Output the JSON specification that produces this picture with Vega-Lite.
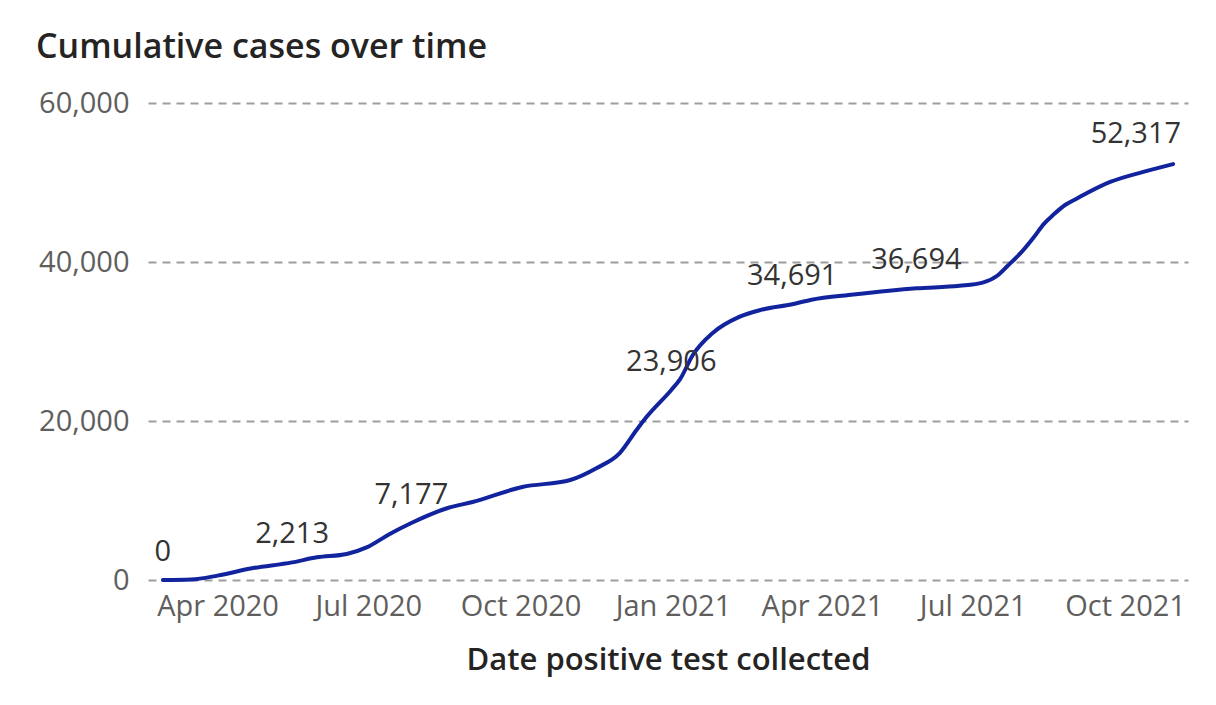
{
  "$schema": "https://vega.github.io/schema/vega-lite/v6.json",
  "width": 1040,
  "height": 477,
  "autosize": {"type": "none"},
  "padding": {"left": 148, "top": 103, "right": 28, "bottom": 125},
  "background": "white",
  "title": {
    "text": "Cumulative cases over time",
    "anchor": "start",
    "frame": "group",
    "dx": -112,
    "offset": 24,
    "font": "Open Sans",
    "fontSize": 34,
    "fontWeight": 600,
    "color": "#252423"
  },
  "config": {
    "view": {"stroke": null},
    "font": "Open Sans"
  },
  "data": {
    "values": [
      {"date": "2020-02-28", "cases": 0, "label": "0"},
      {"date": "2020-03-16", "cases": 60},
      {"date": "2020-04-01", "cases": 550},
      {"date": "2020-04-21", "cases": 1450},
      {"date": "2020-05-16", "cases": 2213, "label": "2,213"},
      {"date": "2020-05-31", "cases": 2850},
      {"date": "2020-06-18", "cases": 3270},
      {"date": "2020-06-30", "cases": 4100},
      {"date": "2020-07-14", "cases": 5800},
      {"date": "2020-07-27", "cases": 7177, "label": "7,177"},
      {"date": "2020-08-18", "cases": 9060},
      {"date": "2020-09-02", "cases": 9810},
      {"date": "2020-10-02", "cases": 11700},
      {"date": "2020-10-31", "cases": 12580},
      {"date": "2020-11-16", "cases": 14090},
      {"date": "2020-11-30", "cases": 16000},
      {"date": "2020-12-10", "cases": 18870},
      {"date": "2020-12-16", "cases": 20500},
      {"date": "2020-12-31", "cases": 23906, "label": "23,906"},
      {"date": "2021-01-05", "cases": 25160},
      {"date": "2021-01-13", "cases": 28300},
      {"date": "2021-01-25", "cases": 31070},
      {"date": "2021-02-10", "cases": 33090},
      {"date": "2021-02-23", "cases": 33970},
      {"date": "2021-03-14", "cases": 34691, "label": "34,691"},
      {"date": "2021-03-25", "cases": 35220},
      {"date": "2021-04-20", "cases": 35900},
      {"date": "2021-05-28", "cases": 36694, "label": "36,694"},
      {"date": "2021-06-23", "cases": 37000},
      {"date": "2021-07-07", "cases": 37400},
      {"date": "2021-07-16", "cases": 38300},
      {"date": "2021-07-22", "cases": 39500},
      {"date": "2021-07-30", "cases": 41140},
      {"date": "2021-08-07", "cases": 43150},
      {"date": "2021-08-13", "cases": 44800},
      {"date": "2021-08-19", "cases": 46000},
      {"date": "2021-08-26", "cases": 47200},
      {"date": "2021-09-02", "cases": 48000},
      {"date": "2021-09-22", "cases": 50070},
      {"date": "2021-10-12", "cases": 51330},
      {"date": "2021-10-30", "cases": 52317, "label": "52,317", "last": true}
    ]
  },
  "encoding": {
    "x": {
      "field": "date",
      "type": "temporal",
      "scale": {
        "type": "utc",
        "domain": [
          {"year": 2020, "month": 2, "date": 19, "utc": true},
          {"year": 2021, "month": 11, "date": 8, "utc": true}
        ]
      },
      "axis": {
        "values": [
          {"year": 2020, "month": 4, "date": 1, "utc": true},
          {"year": 2020, "month": 7, "date": 1, "utc": true},
          {"year": 2020, "month": 10, "date": 1, "utc": true},
          {"year": 2021, "month": 1, "date": 1, "utc": true},
          {"year": 2021, "month": 4, "date": 1, "utc": true},
          {"year": 2021, "month": 7, "date": 1, "utc": true},
          {"year": 2021, "month": 10, "date": 1, "utc": true}
        ],
        "labelExpr": "utcFormat(datum.value, '%b %Y')",
        "title": "Date positive test collected",
        "titleFont": "Open Sans",
        "titleFontSize": 31,
        "titleFontWeight": 600,
        "titleColor": "#252423",
        "titlePadding": 24,
        "labelFont": "Open Sans",
        "labelFontSize": 29,
        "labelColor": "#605E5C",
        "labelPadding": 12,
        "labelOverlap": false,
        "ticks": false,
        "domain": false,
        "grid": false
      }
    },
    "y": {
      "field": "cases",
      "type": "quantitative",
      "scale": {"domain": [0, 60000]},
      "axis": {
        "values": [0, 20000, 40000, 60000],
        "format": ",d",
        "title": null,
        "labelFont": "Open Sans",
        "labelFontSize": 29,
        "labelColor": "#605E5C",
        "labelPadding": 19,
        "ticks": false,
        "domain": false,
        "grid": true,
        "gridColor": "#9E9E9E",
        "gridWidth": 2,
        "gridDash": [8, 6]
      }
    }
  },
  "layer": [
    {
      "mark": {"type": "line", "color": "#12239E", "strokeWidth": 4, "interpolate": "monotone", "strokeCap": "round"}
    },
    {
      "transform": [{"filter": "datum.label != null && datum.last != true"}],
      "mark": {"type": "text", "dy": -28, "font": "Open Sans", "fontSize": 29, "color": "#333333"},
      "encoding": {"text": {"field": "label"}}
    },
    {
      "transform": [{"filter": "datum.last == true"}],
      "mark": {"type": "text", "dy": -30, "dx": 8, "align": "right", "font": "Open Sans", "fontSize": 29, "color": "#333333"},
      "encoding": {"text": {"field": "label"}}
    }
  ]
}
